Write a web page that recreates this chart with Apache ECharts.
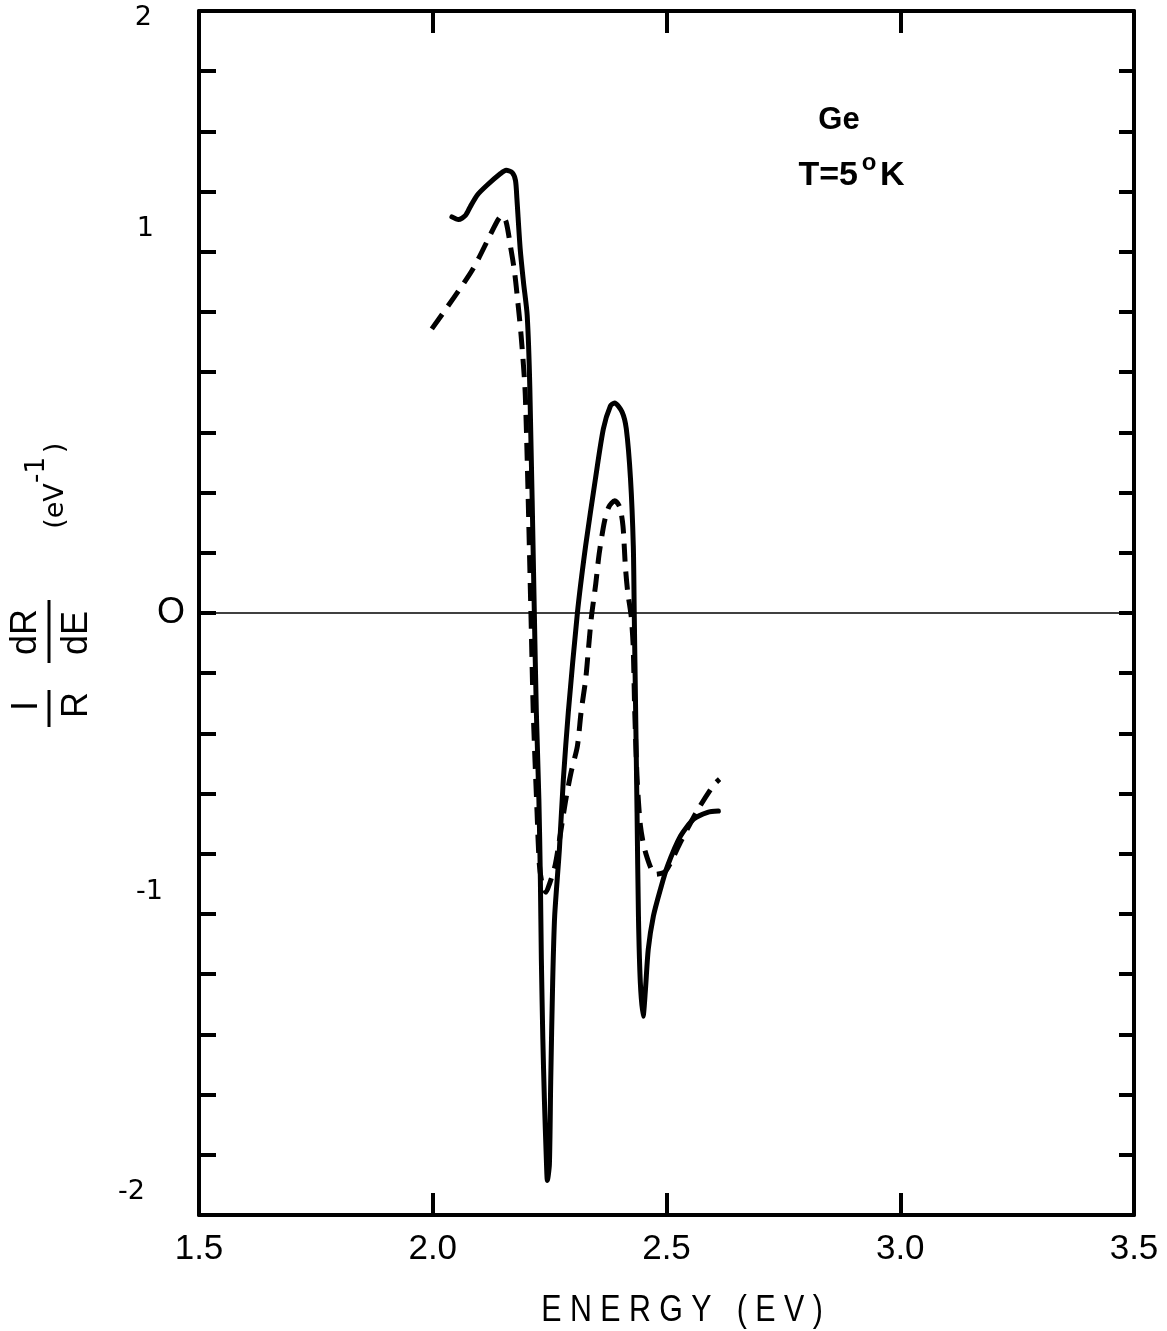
<!DOCTYPE html>
<html>
<head>
<meta charset="utf-8">
<script src="https://cdn.jsdelivr.net/npm/echarts@6/dist/echarts.min.js"></script>
<style>
html,body{margin:0;padding:0;background:#fff;}
#chart{width:1167px;height:1331px;}
</style>
</head>
<body>
<div id="chart"></div>
<script>
// ---- data (energy in eV, (1/R)dR/dE in eV^-1) ----
const solidCurve = [
  [2.041,1.316],[2.055,1.307],[2.070,1.321],[2.080,1.349],[2.095,1.388],[2.116,1.421],
  [2.145,1.460],[2.157,1.471],[2.170,1.463],[2.177,1.437],[2.180,1.377],[2.187,1.210],
  [2.194,1.100],[2.202,0.989],[2.2077,0.745],[2.2173,0.0],[2.2216,-0.329],[2.227,-0.618],
  [2.2302,-0.884],[2.2323,-1.150],[2.2355,-1.416],[2.2388,-1.616],[2.2430,-1.815],
  [2.2452,-1.885],[2.2495,-1.832],[2.2523,-1.559],[2.2565,-1.227],[2.2608,-1.007],
  [2.2709,-0.785],[2.2794,-0.552],[2.290,-0.329],[2.3094,0.0],[2.327,0.223],[2.348,0.446],
  [2.365,0.612],[2.380,0.688],[2.389,0.698],[2.405,0.668],[2.414,0.612],[2.423,0.446],
  [2.429,0.223],[2.431,0.0],[2.434,-0.329],[2.437,-0.662],[2.440,-1.007],[2.444,-1.227],
  [2.450,-1.340],[2.455,-1.250],[2.461,-1.117],[2.472,-1.007],[2.487,-0.918],[2.502,-0.841],
  [2.530,-0.741],[2.558,-0.685],[2.588,-0.662],[2.611,-0.658]
];
const dashedCurve = [
  [1.998,0.944],[2.084,1.138],[2.137,1.299],[2.148,1.321],[2.157,1.299],[2.166,1.221],
  [2.175,1.133],[2.182,1.033],[2.189,0.922],[2.198,0.723],[2.210,0.0],[2.215,-0.329],
  [2.2231,-0.662],[2.228,-0.835],[2.2345,-0.904],[2.242,-0.928],[2.2495,-0.901],
  [2.2623,-0.835],[2.2837,-0.628],[2.2959,-0.529],[2.3094,-0.442],[2.3173,-0.329],
  [2.3272,-0.219],[2.3330,-0.120],[2.3394,-0.013],[2.3486,0.096],[2.3559,0.196],
  [2.3672,0.303],[2.3765,0.352],[2.3893,0.373],[2.400,0.352],[2.4069,0.289],[2.412,0.156],
  [2.417,0.070],[2.4244,-0.010],[2.4287,-0.110],[2.4321,-0.329],[2.4372,-0.552],
  [2.4443,-0.708],[2.455,-0.795],[2.4764,-0.868],[2.4979,-0.858],[2.530,-0.761],
  [2.5664,-0.655],[2.6007,-0.572],[2.6135,-0.552]
];
const xMin = 1.5, xMax = 3.5, xStep = 0.5;
const yMin = -2, yMax = 2, yStep = 0.2;
const yLabelAt = [1.978, 1.277, 0, -0.927, -1.922];
const yLabelText = ['2', '1', 'O', '-1', '-2'];
const xTitle = 'E N E R G Y   ( E V )';
const sampleName = 'Ge';

// ---- styles ----
const SANS = '"Liberation Sans", Arial, sans-serif';
const DJ = '"DejaVu Sans", sans-serif';
const yLabelPad = [33, 31, 0, 22, 40];
const yLabelSize = [27, 27, 36, 27, 27];
const yLabelFont = [DJ, DJ, SANS, DJ, DJ];

const rich = {};
yLabelText.forEach((t, i) => {
  rich['r' + i] = {
    fontSize: yLabelSize[i], fontFamily: yLabelFont[i], color: '#000',
    padding: [0, yLabelPad[i], 0, 0]
  };
});

const axisLineStyle = { show: true, onZero: false, lineStyle: { color: '#000', width: 4 } };
const centered = { fill: '#000', textAlign: 'center', textVerticalAlign: 'middle', align: 'center', verticalAlign: 'middle' };
function txt(x, y, text, font, extra, rot) {
  const el = { type: 'text', x: x, y: y, style: Object.assign({ text: text, font: font }, centered, extra || {}) };
  if (rot) el.rotation = rot;
  return el;
}

const chart = echarts.init(document.getElementById('chart'), null, { renderer: 'canvas' });

const option = {
  animation: false,
  backgroundColor: '#fff',
  grid: { left: 199, right: 33, top: 11, bottom: 116, containLabel: false },
  xAxis: [
    {
      type: 'value', min: xMin, max: xMax, interval: xStep, position: 'bottom',
      axisLine: axisLineStyle,
      axisTick: { show: true, inside: true, length: 22, lineStyle: { color: '#000', width: 4 } },
      axisLabel: {
        margin: 17, fontSize: 35, fontFamily: SANS, color: '#000',
        formatter: v => v.toFixed(1)
      },
      splitLine: { show: false }
    },
    {
      type: 'value', min: xMin, max: xMax, interval: xStep, position: 'top',
      axisLine: axisLineStyle,
      axisTick: { show: true, inside: true, length: 22, lineStyle: { color: '#000', width: 4 } },
      axisLabel: { show: false },
      splitLine: { show: false }
    }
  ],
  yAxis: [
    {
      type: 'value', min: yMin, max: yMax, interval: yStep, position: 'left',
      axisLine: axisLineStyle,
      axisTick: { show: true, inside: true, length: 17, lineStyle: { color: '#000', width: 4 } },
      axisLabel: {
        customValues: yLabelAt,
        margin: 14,
        formatter: v => {
          let best = 0;
          yLabelAt.forEach((a, i) => { if (Math.abs(a - v) < Math.abs(yLabelAt[best] - v)) best = i; });
          return '{r' + best + '|' + yLabelText[best] + '}';
        },
        rich: rich
      },
      splitLine: { show: false }
    },
    {
      type: 'value', min: yMin, max: yMax, interval: yStep, position: 'right',
      axisLine: axisLineStyle,
      axisTick: { show: true, inside: true, length: 15, lineStyle: { color: '#000', width: 4 } },
      axisLabel: { show: false },
      splitLine: { show: false }
    }
  ],
  series: [
    {
      name: 'solid', type: 'line', data: solidCurve, xAxisIndex: 0, yAxisIndex: 0,
      showSymbol: false, smooth: 0.25, z: 5,
      lineStyle: { color: '#000', width: 5, cap: 'round', join: 'round' },
      markLine: {
        silent: true, symbol: ['none', 'none'], label: { show: false },
        lineStyle: { color: '#000', width: 1.5, type: 'solid' },
        data: [{ yAxis: 0 }]
      }
    },
    {
      name: 'dashed', type: 'line', data: dashedCurve, xAxisIndex: 0, yAxisIndex: 0,
      showSymbol: false, smooth: 0.25, z: 4,
      lineStyle: { color: '#000', width: 5, type: [18, 10], cap: 'butt', join: 'round' }
    }
  ],
  graphic: [
    // annotation
    txt(839, 120, sampleName, 'bold 31px ' + SANS),
    txt(858, 176, 'T=5', 'bold 34px ' + SANS, { textAlign: 'right', align: 'right' }),
    txt(869, 163, 'o', 'bold 24px ' + SANS),
    txt(880, 176, 'K', 'bold 34px ' + SANS, { textAlign: 'left', align: 'left' }),
    // x-axis title (condensed by horizontal scaling)
    Object.assign(txt(682, 1311, xTitle, '37px ' + SANS), { scaleX: 0.82 }),
    // y-axis title: (1/R)(dR/dE) (eV^-1), rotated
    txt(26, 632, 'dR', '36px ' + SANS, null, Math.PI / 2),
    txt(77, 633, 'dE', '36px ' + SANS, null, Math.PI / 2),
    { type: 'line', shape: { x1: 49, y1: 600, x2: 49, y2: 663 }, style: { stroke: '#000', lineWidth: 3 } },
    txt(27, 706, 'I', '36px ' + SANS, null, Math.PI / 2),
    txt(77, 705, 'R', '36px ' + SANS, null, Math.PI / 2),
    { type: 'line', shape: { x1: 49, y1: 690, x2: 49, y2: 727 }, style: { stroke: '#000', lineWidth: 3 } },
    txt(56, 506, '(eV', '27px ' + DJ, null, Math.PI / 2),
    txt(37, 470, '-1', '26px ' + DJ, null, Math.PI / 2),
    txt(56, 448, ')', '27px ' + DJ, null, Math.PI / 2)
  ]
};

chart.setOption(option);
</script>
</body>
</html>
